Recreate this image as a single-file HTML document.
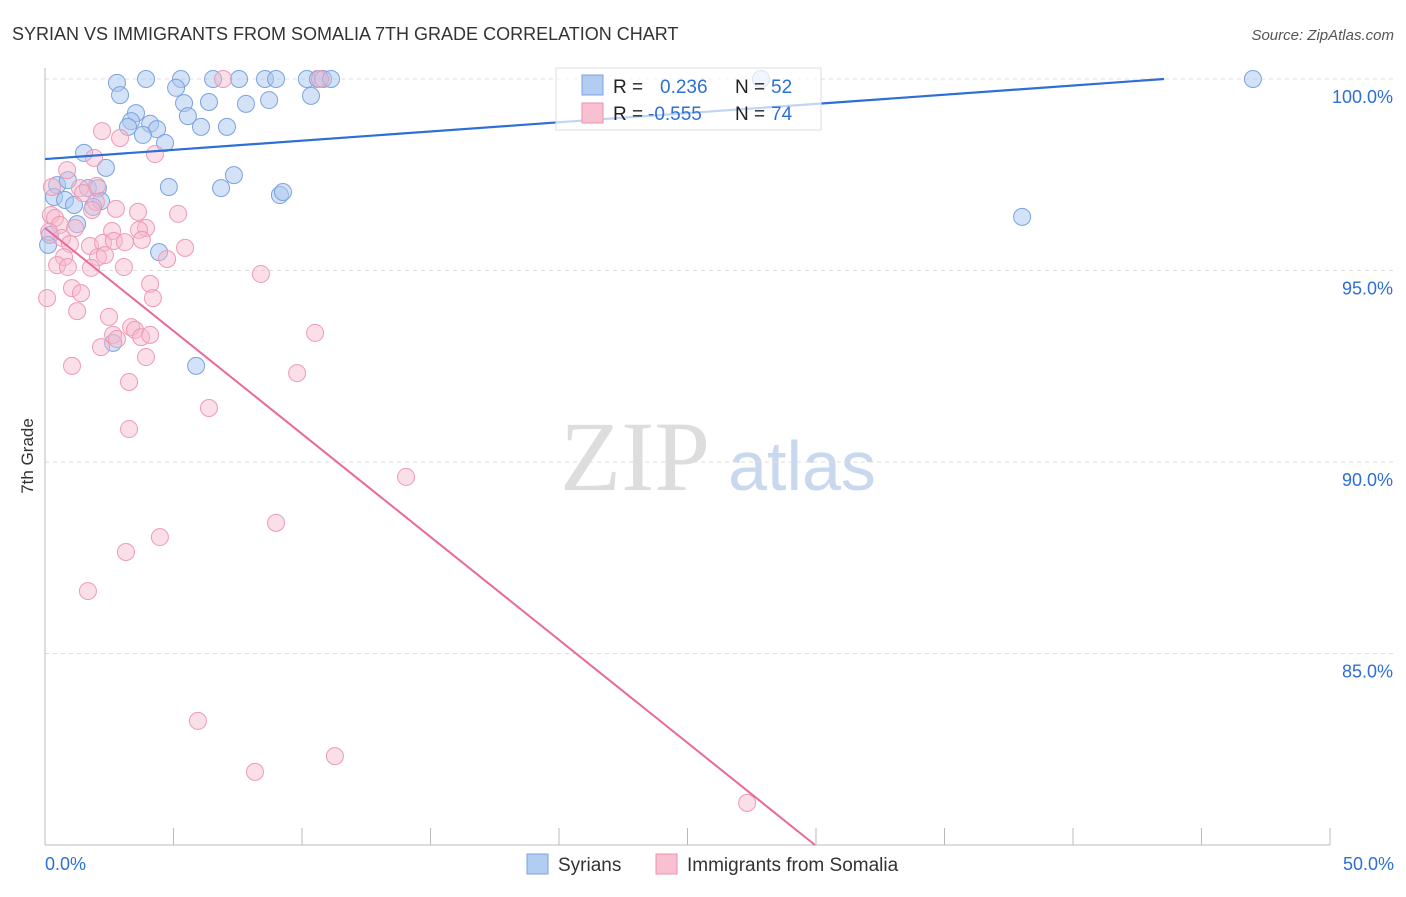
<!DOCTYPE html>
<html><head><meta charset="utf-8"><style>
body{margin:0;background:#fff;font-family:"Liberation Sans",sans-serif;}
svg text{font-family:"Liberation Sans",sans-serif;}
</style></head><body>
<svg id="chart" width="1406" height="892" xmlns="http://www.w3.org/2000/svg">
<text x="12" y="40" font-size="18" fill="#333">SYRIAN VS IMMIGRANTS FROM SOMALIA 7TH GRADE CORRELATION CHART</text>
<text x="1394" y="40" font-size="15" fill="#555" text-anchor="end" font-style="italic">Source: ZipAtlas.com</text>
<text x="33" y="456" font-size="17" fill="#333" text-anchor="middle" transform="rotate(-90 33 456)">7th Grade</text>
<g>
<text x="635" y="490" font-size="100" fill="#ddd" text-anchor="middle" style="font-family:'Liberation Serif',serif">ZIP</text>
<text x="802" y="490" font-size="70" fill="#c8d8ef" text-anchor="middle">atlas</text>
</g>
<g id="grid"></g><g id="axes"></g><g id="pts"></g><g id="lines"></g>
<g>
<rect x="556" y="68" width="265" height="62" fill="#fff" fill-opacity="0.7" stroke="#ddd"/>
<rect x="582" y="75" width="21" height="20" fill="#b3cdf2" stroke="#7aa3e0"/>
<rect x="582" y="103" width="21" height="20" fill="#f8c0d0" stroke="#eb92ae"/>
<text x="613" y="93" font-size="19" fill="#222">R =</text>
<text x="660" y="93" font-size="19" fill="#2d6fd6">0.236</text>
<text x="735" y="93" font-size="19" fill="#222">N =</text>
<text x="771" y="93" font-size="19" fill="#2d6fd6">52</text>
<text x="613" y="120" font-size="19" fill="#222">R =</text>
<text x="648" y="120" font-size="19" fill="#2d6fd6">-0.555</text>
<text x="735" y="120" font-size="19" fill="#222">N =</text>
<text x="771" y="120" font-size="19" fill="#2d6fd6">74</text>
</g>
<g>
<rect x="527" y="854" width="21" height="20" fill="#b3cdf2" stroke="#7aa3e0"/>
<text x="558" y="871" font-size="19" fill="#333">Syrians</text>
<rect x="656" y="854" width="21" height="20" fill="#f8c0d0" stroke="#eb92ae"/>
<text x="687" y="871" font-size="19" fill="#333">Immigrants from Somalia</text>
</g>
</svg>
<script>
const blueX=[2.80,3.93,5.29,6.54,7.55,8.56,8.99,10.19,10.62,10.82,11.13,2.92,5.10,6.38,5.41,7.82,8.72,10.35,3.54,5.56,3.35,4.09,4.36,3.23,6.07,7.08,3.81,4.67,1.52,2.37,7.35,0.47,0.89,1.67,2.06,4.82,6.85,9.14,9.26,0.35,0.78,1.13,2.18,1.87,1.25,0.19,0.12,4.44,2.65,5.88,38.02,47.0,27.86];
const blueY=[99.9,100,100,100,100,100,100,100,100,100,100,99.58,99.77,99.40,99.37,99.35,99.45,99.56,99.11,99.03,98.90,98.83,98.69,98.75,98.75,98.75,98.54,98.33,98.07,97.68,97.49,97.23,97.36,97.15,97.15,97.18,97.15,96.97,97.05,96.92,96.84,96.71,96.81,96.66,96.21,95.93,95.67,95.48,93.11,92.51,96.40,100,100];
const pinkX=[6.93,10.70,2.22,2.92,4.28,1.91,0.86,0.27,1.36,2.02,1.48,1.98,2.76,3.62,5.18,0.23,0.39,1.83,0.58,1.17,2.61,3.93,3.66,0.16,0.66,0.97,1.75,2.26,2.68,3.11,3.77,5.45,0.74,2.06,2.33,4.75,0.47,0.89,1.79,3.07,8.40,1.05,1.40,4.09,4.20,0.08,1.25,2.49,3.35,3.50,2.65,2.80,3.74,4.09,10.51,2.18,3.93,1.05,9.81,3.27,6.38,3.27,14.05,8.99,4.47,3.15,1.67,5.95,11.28,8.17,27.32];
const pinkY=[100,100,98.64,98.46,98.04,97.94,97.62,97.18,97.15,97.21,97.02,96.79,96.61,96.53,96.48,96.45,96.37,96.58,96.19,96.11,96.03,96.11,96.06,96.01,95.85,95.69,95.64,95.72,95.77,95.74,95.80,95.59,95.35,95.35,95.40,95.30,95.14,95.09,95.07,95.09,94.91,94.54,94.41,94.65,94.28,94.28,93.94,93.79,93.52,93.45,93.32,93.21,93.26,93.32,93.37,93.00,92.74,92.51,92.32,92.09,91.41,90.86,89.61,88.41,88.04,87.65,86.63,83.24,82.32,81.91,81.10];
const blueLine=[97.91,0.048]; // intercept, slope
const pinkLine=[96.11,-0.5377];
const yTicks=[100,95,90,85];
const xTicks=[0,5,10,15,20,25,30,35,40,45,50];
const NS="http://www.w3.org/2000/svg";
const X=v=>45+v*25.7, Y=v=>79+(100-v)*38.3;
function mk(p,t,a){const e=document.createElementNS(NS,t);for(const k in a)e.setAttribute(k,a[k]);document.getElementById(p).appendChild(e);return e;}
yTicks.forEach(t=>{
 const g=mk('grid','line',{x1:45,x2:1394,y1:Y(t),y2:Y(t),stroke:'#ddd','stroke-dasharray':'4,4'});
 
 
 const l=mk('grid','text',{x:1393,y:Y(t)+24,'font-size':18,fill:'#2d6fd6','text-anchor':'end'});l.textContent=t.toFixed(1)+'%';
 
 
});
const ax=mk('axes','line',{x1:45,x2:45,y1:68,y2:845,stroke:'#bbb'});


const bx=mk('axes','line',{x1:45,x2:1330,y1:845,y2:845,stroke:'#bbb'});


xTicks.forEach(t=>{const k=mk('axes','line',{x1:X(t),x2:X(t),y1:828,y2:845,stroke:'#bbb'});
 
 });
[[0,'0.0%','start',45],[50,'50.0%','end',1394]].forEach(d=>{const l=mk('axes','text',{x:d[3],y:870,'font-size':18,fill:'#2d6fd6','text-anchor':d[2]});l.textContent=d[1];
 
 });
blueX.forEach((v,i)=>{const c=mk('pts','circle',{cx:X(v),cy:Y(blueY[i]),r:8.5,fill:'#a9c6ef','fill-opacity':0.5,stroke:'#7aa3e0','stroke-width':1});
 
 });
pinkX.forEach((v,i)=>{const c=mk('pts','circle',{cx:X(v),cy:Y(pinkY[i]),r:8.5,fill:'#f7b8cb','fill-opacity':0.45,stroke:'#ee9ab4','stroke-width':1});
 
 });
const bEnd=(100-blueLine[0])/blueLine[1];
const bl=mk('lines','line',{x1:X(0),y1:Y(blueLine[0]),x2:X(bEnd),y2:Y(100),stroke:'#2d6fd6','stroke-width':2.2});


const pEnd=(80-pinkLine[0])/pinkLine[1];
const pl=mk('lines','line',{x1:X(0),y1:Y(pinkLine[0]),x2:X(pEnd),y2:Y(80),stroke:'#e8699a','stroke-width':2});


</script>
</body></html>
